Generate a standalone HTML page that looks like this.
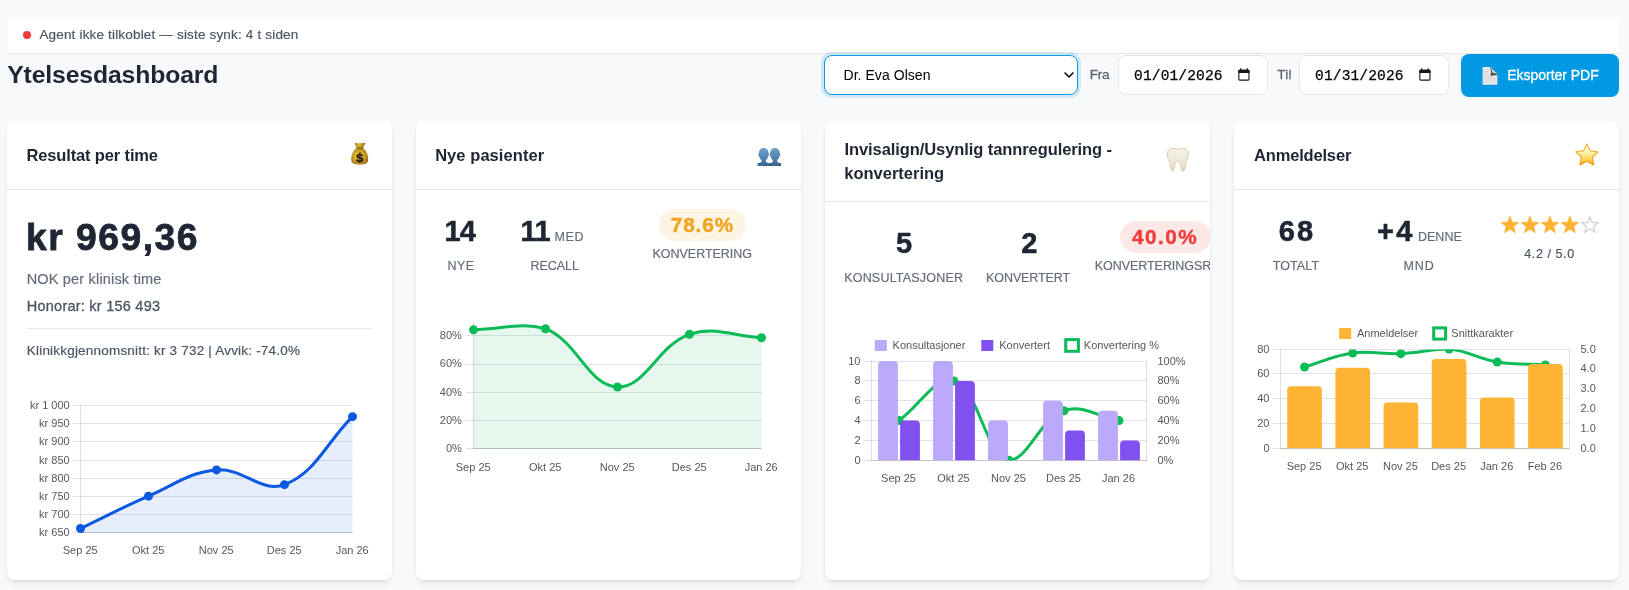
<!DOCTYPE html>
<html lang="no">
<head>
<meta charset="utf-8">
<title>Ytelsesdashboard</title>
<style>
*{box-sizing:border-box;margin:0;padding:0}
html,body{width:1629px;height:590px;overflow:hidden}
body{position:relative;background:#f8f9fb;font-family:"Liberation Sans",sans-serif;color:#1e2533}
h1,h2,label{font-weight:400;font-size:inherit}
.t{position:absolute;white-space:nowrap;line-height:1;font-family:"Liberation Sans",sans-serif;margin:0}
.gfx{position:absolute;left:0;top:0;pointer-events:none}
.status{position:absolute;left:7px;top:17px;width:1612px;height:37px;background:#fff;border-bottom:1px solid #e5e7eb;will-change:transform}
.dot{position:absolute;left:16px;top:14px;width:8px;height:8px;border-radius:50%;background:#ef3b3f}
.top{position:absolute;left:0;top:0;width:1629px;height:110px;will-change:transform}
.select{position:absolute;left:824px;top:55px;width:254px;height:40px;background:#fff;border:1.5px solid #0a99e6;border-radius:8px;box-shadow:0 0 0 3px rgba(14,150,230,0.17)}
.date{position:absolute;top:55px;width:150px;height:40px;background:#fff;border:1px solid #e3e6ea;border-radius:8px}
.btn{position:absolute;left:1461px;top:54px;width:158px;height:43px;background:#0099e3;border-radius:8px}
.card{position:absolute;top:121px;width:385px;height:459px;background:#fff;border-radius:8px;overflow:hidden;will-change:transform;
 box-shadow:0 4px 6px -1px rgba(0,0,0,0.09),0 2px 4px -1px rgba(0,0,0,0.05),0 0 2px rgba(0,0,0,0.03)}
.card .hd{position:absolute;left:0;top:0;width:100%;border-bottom:1px solid #e5e7eb}
.rule{position:absolute;width:345px;height:1px;background:#e5e7eb}
.pill{position:absolute;height:32px;border-radius:16px}
</style>
</head>
<body>
<div class="status" role="status">
<span class="dot"></span>
<span class="t" style="left:32.39px;top:11px;font-size:13.5px;color:#4b5563;letter-spacing:0.175px;-webkit-text-stroke:0.18px #4b5563;">Agent ikke tilkoblet — siste synk: 4 t siden</span>
</div>
<header class="top">
<h1 class="t" style="left:7.21px;top:63px;font-size:24.75px;color:#1e2533;letter-spacing:-0.128px;font-weight:700;">Ytelsesdashboard</h1>
<div class="select" role="combobox" aria-label="Behandler">
</div>
<span class="t" style="left:843.48px;top:68px;font-size:14px;color:#000;letter-spacing:0.054px;">Dr. Eva Olsen</span>
<label class="t" style="left:1089.87px;top:68px;font-size:13.5px;color:#5f6775;letter-spacing:-0.335px;-webkit-text-stroke:0.3px #5f6775;">Fra</label>
<div class="date" style="left:1118px"></div>
<span class="t" style="left:1134.06px;top:69px;font-size:14.5px;color:#000;letter-spacing:0.163px;font-family:'Liberation Mono',monospace;-webkit-text-stroke:0.25px #000;">01/01/2026</span>
<label class="t" style="left:1277.18px;top:68px;font-size:13.5px;color:#5f6775;letter-spacing:0.322px;-webkit-text-stroke:0.3px #5f6775;">Til</label>
<div class="date" style="left:1299px"></div>
<span class="t" style="left:1315.06px;top:69px;font-size:14.5px;color:#000;letter-spacing:0.163px;font-family:'Liberation Mono',monospace;-webkit-text-stroke:0.25px #000;">01/31/2026</span>
<div class="btn" role="button"></div>
<span class="t" style="left:1507.23px;top:68px;font-size:14px;color:#fff;letter-spacing:-0.024px;-webkit-text-stroke:0.3px #fff;">Eksporter PDF</span>
<svg class="gfx" width="1629" height="110" viewBox="0 0 1629 110" aria-hidden="true">
<path d="M1065.1,73.0 l3.9,4 l3.9,-4" fill="none" stroke="#111" stroke-width="1.7" stroke-linecap="round" stroke-linejoin="round"/>
<g transform="translate(1238.3,68.2)"><rect x="0.55" y="2.2" width="10.1" height="9.7" rx="0.9" fill="none" stroke="#161616" stroke-width="1.1"/><path d="M0,4.7 V2.6 Q0,1.6 1,1.6 H10.2 Q11.2,1.6 11.2,2.6 V4.7Z" fill="#161616"/><rect x="1.7" y="0.1" width="1.3" height="2" fill="#161616"/><rect x="8.2" y="0.1" width="1.3" height="2" fill="#161616"/></g>
<g transform="translate(1419.3,68.2)"><rect x="0.55" y="2.2" width="10.1" height="9.7" rx="0.9" fill="none" stroke="#161616" stroke-width="1.1"/><path d="M0,4.7 V2.6 Q0,1.6 1,1.6 H10.2 Q11.2,1.6 11.2,2.6 V4.7Z" fill="#161616"/><rect x="1.7" y="0.1" width="1.3" height="2" fill="#161616"/><rect x="8.2" y="0.1" width="1.3" height="2" fill="#161616"/></g>
<g transform="translate(1482.6,67.1)">
<path d="M0,0 H7.6 L14.8,7.6 V17.7 H0Z" fill="#e7e7e7"/>
<path d="M7.3,0 C8.7,2.8 8.6,6.2 7.9,8.9 C10.2,8.2 12.8,7.9 14.8,8.3 L14.8,7.5Z" fill="#4f4f4f"/>
<path d="M7.6,0 L14.8,7.5 C13,6.1 11.2,5.3 9.7,5.3 C9.8,3.4 9,1.5 7.6,0Z" fill="#f4f4f4"/>
<path d="M1.6,4.2H6.2M1.6,6.4H6.6M1.6,8.6H8M1.6,10.8H12.6M1.6,13H12.6M1.6,15.2H6" stroke="#cfcfcf" stroke-width="0.7"/>
</g>
</svg>
</header>
<main>
<section class="card" style="left:7px">
<div class="hd" style="height:69px"></div>
<h2 class="t" style="left:19.53px;top:26px;font-size:16.5px;color:#1e2533;letter-spacing:-0.148px;font-weight:700;">Resultat per time</h2>
<span class="t big" style="left:18.99px;top:98px;font-size:37.25px;color:#1e2533;letter-spacing:1.510px;font-weight:700;-webkit-text-stroke:0.8px #1e2533;">kr 969,36</span>
<span class="t" style="left:19.73px;top:151px;font-size:14.5px;color:#646c7a;letter-spacing:0.176px;-webkit-text-stroke:0.18px #646c7a;">NOK per klinisk time</span>
<span class="t" style="left:19.79px;top:178px;font-size:14.5px;color:#4b5563;letter-spacing:0.237px;-webkit-text-stroke:0.3px #4b5563;">Honorar: kr 156 493</span>
<div class="rule" style="left:20px;top:207px"></div>
<span class="t" style="left:19.81px;top:223px;font-size:13.5px;color:#4b5563;letter-spacing:0.199px;-webkit-text-stroke:0.18px #4b5563;">Klinikkgjennomsnitt: kr 3 732 | Avvik: -74.0%</span>
<svg class="gfx" width="385" height="459" viewBox="7 121 385 459" aria-hidden="true">
<g transform="translate(351.2,142.8)">
<defs>
<radialGradient id="mbg" cx="0.45" cy="0.5" r="0.62"><stop offset="0" stop-color="#efcf55"/><stop offset="0.5" stop-color="#d2a52b"/><stop offset="0.85" stop-color="#a57a17"/><stop offset="1" stop-color="#7d5a10"/></radialGradient>
<linearGradient id="mbn" x1="0" x2="1"><stop offset="0" stop-color="#8f6a13"/><stop offset="0.35" stop-color="#dcb43c"/><stop offset="0.6" stop-color="#c89f2a"/><stop offset="1" stop-color="#8f6a13"/></linearGradient>
</defs>
<path d="M3.3,0.5 C4.6,-0.2 6.4,0.9 8.6,0.4 C10.8,0.9 12.8,-0.2 14.2,0.6 C13.4,2.2 12.2,3.4 11.9,5.4 L5.4,5.4 C5.1,3.4 4.1,2.2 3.3,0.5Z" fill="url(#mbn)"/>
<path d="M5.6,4.9 L11.7,4.9 C12.4,6 13.6,6.6 14.6,8.2 C16,10.4 17,13.4 17,16.4 C17,20.2 14.4,21.8 8.5,21.8 C2.6,21.8 0,20.2 0,16.4 C0,13.4 1,10.4 2.4,8.2 C3.4,6.6 4.9,6 5.6,4.9Z" fill="url(#mbg)"/>
<path d="M5.3,4.6 H11.9 V5.7 H5.3Z" fill="#6f4f0c" opacity="0.85"/>
<text x="8.75" y="18.9" text-anchor="middle" font-family="Liberation Sans, sans-serif" font-weight="700" font-size="11.5" fill="#271c0c" stroke="#271c0c" stroke-width="0.35">S</text>
<path d="M8.75,9.3 V20.2" stroke="#271c0c" stroke-width="1.15" fill="none"/>
</g>
<path d="M72.5,532.5 H352.5" stroke="#dfe2e9" stroke-width="1" fill="none"/>
<path d="M72.5,514.5 H352.5" stroke="#dfe2e9" stroke-width="1" fill="none"/>
<path d="M72.5,496.5 H352.5" stroke="#dfe2e9" stroke-width="1" fill="none"/>
<path d="M72.5,478.5 H352.5" stroke="#dfe2e9" stroke-width="1" fill="none"/>
<path d="M72.5,460.5 H352.5" stroke="#dfe2e9" stroke-width="1" fill="none"/>
<path d="M72.5,441.5 H352.5" stroke="#dfe2e9" stroke-width="1" fill="none"/>
<path d="M72.5,423.5 H352.5" stroke="#dfe2e9" stroke-width="1" fill="none"/>
<path d="M72.5,405.5 H352.5" stroke="#dfe2e9" stroke-width="1" fill="none"/>
<path d="M80.5,405 V533" stroke="rgba(0,0,0,0.13)" stroke-width="1" fill="none"/>
<path d="M80.5,532.5 H352.5" stroke="rgba(0,0,0,0.13)" stroke-width="1" fill="none"/>
<text x="69.7" y="536.3" text-anchor="end" font-family="Liberation Sans, sans-serif" font-size="11" fill="#575757" >kr 650</text>
<text x="69.7" y="518.1" text-anchor="end" font-family="Liberation Sans, sans-serif" font-size="11" fill="#575757" >kr 700</text>
<text x="69.7" y="499.9" text-anchor="end" font-family="Liberation Sans, sans-serif" font-size="11" fill="#575757" >kr 750</text>
<text x="69.7" y="481.7" text-anchor="end" font-family="Liberation Sans, sans-serif" font-size="11" fill="#575757" >kr 800</text>
<text x="69.7" y="463.5" text-anchor="end" font-family="Liberation Sans, sans-serif" font-size="11" fill="#575757" >kr 850</text>
<text x="69.7" y="445.3" text-anchor="end" font-family="Liberation Sans, sans-serif" font-size="11" fill="#575757" >kr 900</text>
<text x="69.7" y="427.1" text-anchor="end" font-family="Liberation Sans, sans-serif" font-size="11" fill="#575757" >kr 950</text>
<text x="69.7" y="408.9" text-anchor="end" font-family="Liberation Sans, sans-serif" font-size="11" fill="#575757" >kr 1 000</text>
<text x="80.2" y="554" text-anchor="middle" font-family="Liberation Sans, sans-serif" font-size="11" fill="#575757" >Sep 25</text>
<text x="148.2" y="554" text-anchor="middle" font-family="Liberation Sans, sans-serif" font-size="11" fill="#575757" >Okt 25</text>
<text x="216.2" y="554" text-anchor="middle" font-family="Liberation Sans, sans-serif" font-size="11" fill="#575757" >Nov 25</text>
<text x="284.2" y="554" text-anchor="middle" font-family="Liberation Sans, sans-serif" font-size="11" fill="#575757" >Des 25</text>
<text x="352.2" y="554" text-anchor="middle" font-family="Liberation Sans, sans-serif" font-size="11" fill="#575757" >Jan 26</text>
<path d="M80.5,528.53 C107.7,515.57 120.85,508.05 148.5,496.14 C175.25,484.61 188.67,472.28 216.5,469.93 C243.07,467.68 261.66,493.58 284.5,484.63 C316.06,472.27 325.3,443.85 352.5,416.65 L352.5,532.9 L80.5,532.9 Z" fill="rgba(11,89,224,0.1)"/>
<path d="M80.5,528.53 C107.7,515.57 120.85,508.05 148.5,496.14 C175.25,484.61 188.67,472.28 216.5,469.93 C243.07,467.68 261.66,493.58 284.5,484.63 C316.06,472.27 325.3,443.85 352.5,416.65" fill="none" stroke="#0b59e0" stroke-width="3" stroke-linecap="butt" stroke-linejoin="miter"/>
<circle cx="80.5" cy="528.53" r="4.5" fill="#0b59e0"/>
<circle cx="148.5" cy="496.14" r="4.5" fill="#0b59e0"/>
<circle cx="216.5" cy="469.93" r="4.5" fill="#0b59e0"/>
<circle cx="284.5" cy="484.63" r="4.5" fill="#0b59e0"/>
<circle cx="352.5" cy="416.65" r="4.5" fill="#0b59e0"/>
</svg>
</section>
<section class="card" style="left:416px">
<div class="hd" style="height:69px"></div>
<h2 class="t" style="left:19.13px;top:26px;font-size:16.5px;color:#1e2533;letter-spacing:0.065px;font-weight:700;">Nye pasienter</h2>
<span class="t" style="left:28.47px;top:96px;font-size:29px;color:#1e2533;letter-spacing:-0.725px;font-weight:700;-webkit-text-stroke:0.55px #1e2533;">14</span>
<span class="t" style="left:31.49px;top:139px;font-size:12.5px;color:#646c7a;letter-spacing:0.466px;-webkit-text-stroke:0.18px #646c7a;">NYE</span>
<span class="t" style="left:104.58px;top:96px;font-size:29px;color:#1e2533;letter-spacing:-0.725px;font-weight:700;-webkit-text-stroke:0.55px #1e2533;">11</span>
<span class="t" style="left:138.59px;top:110px;font-size:12.5px;color:#646c7a;letter-spacing:0.566px;-webkit-text-stroke:0.18px #646c7a;">MED</span>
<span class="t" style="left:114.49px;top:139px;font-size:12.5px;color:#646c7a;letter-spacing:-0.046px;-webkit-text-stroke:0.18px #646c7a;">RECALL</span>
<div class="pill" style="left:243px;top:88px;width:87px;background:#fef4e3"></div>
<span class="t" style="left:254.77px;top:94px;font-size:20.75px;color:#f2a31f;letter-spacing:0.881px;font-weight:700;-webkit-text-stroke:0.4px #f2a31f;">78.6%</span>
<span class="t" style="left:236.49px;top:127px;font-size:12.5px;color:#646c7a;letter-spacing:-0.023px;-webkit-text-stroke:0.18px #646c7a;">KONVERTERING</span>
<svg class="gfx" width="385" height="459" viewBox="416 121 385 459" aria-hidden="true">
<defs><linearGradient id="bsg" x1="0" y1="0" x2="0" y2="1" gradientUnits="objectBoundingBox"><stop offset="0" stop-color="#6fa0c8"/><stop offset="0.6" stop-color="#4f82ae"/><stop offset="1" stop-color="#34608a"/></linearGradient></defs>
<path d="M763.70,147.9 c2.9,0 4.9,2.2 4.9,5.4 c0,0.5 0.5,0.6 0.5,1.3 c0,0.8 -0.6,1.1 -0.8,1.6 c-0.5,1.9 -1.5,3.2 -2.4,3.9 l0,1.6 c0.4,0.9 2.2,1.2 3.9,1.5 l0,2.8 l-12.2,0 l0,-2.8 c1.7,-0.3 3.5,-0.6 3.9,-1.5 l0,-1.6 c-0.9,-0.7 -1.9,-2 -2.4,-3.9 c-0.2,-0.5 -0.8,-0.8 -0.8,-1.6 c0,-0.7 0.5,-0.8 0.5,-1.3 c0,-3.2 2,-5.4 4.9,-5.4z" fill="url(#bsg)"/><path d="M775.00,147.9 c2.9,0 4.9,2.2 4.9,5.4 c0,0.5 0.5,0.6 0.5,1.3 c0,0.8 -0.6,1.1 -0.8,1.6 c-0.5,1.9 -1.5,3.2 -2.4,3.9 l0,1.6 c0.4,0.9 2.2,1.2 3.9,1.5 l0,2.8 l-12.2,0 l0,-2.8 c1.7,-0.3 3.5,-0.6 3.9,-1.5 l0,-1.6 c-0.9,-0.7 -1.9,-2 -2.4,-3.9 c-0.2,-0.5 -0.8,-0.8 -0.8,-1.6 c0,-0.7 0.5,-0.8 0.5,-1.3 c0,-3.2 2,-5.4 4.9,-5.4z" fill="url(#bsg)"/>
<path d="M465.5,448.5 H761.5" stroke="#dfe2e9" stroke-width="1" fill="none"/>
<path d="M465.5,420.5 H761.5" stroke="#dfe2e9" stroke-width="1" fill="none"/>
<path d="M465.5,392.5 H761.5" stroke="#dfe2e9" stroke-width="1" fill="none"/>
<path d="M465.5,364.5 H761.5" stroke="#dfe2e9" stroke-width="1" fill="none"/>
<path d="M465.5,335.5 H761.5" stroke="#dfe2e9" stroke-width="1" fill="none"/>
<path d="M473.5,321 V449" stroke="rgba(0,0,0,0.13)" stroke-width="1" fill="none"/>
<path d="M473.5,448.5 H761.5" stroke="rgba(0,0,0,0.13)" stroke-width="1" fill="none"/>
<text x="461.8" y="452.3" text-anchor="end" font-family="Liberation Sans, sans-serif" font-size="11" fill="#575757" >0%</text>
<text x="461.8" y="424.02" text-anchor="end" font-family="Liberation Sans, sans-serif" font-size="11" fill="#575757" >20%</text>
<text x="461.8" y="395.74" text-anchor="end" font-family="Liberation Sans, sans-serif" font-size="11" fill="#575757" >40%</text>
<text x="461.8" y="367.46" text-anchor="end" font-family="Liberation Sans, sans-serif" font-size="11" fill="#575757" >60%</text>
<text x="461.8" y="339.18" text-anchor="end" font-family="Liberation Sans, sans-serif" font-size="11" fill="#575757" >80%</text>
<text x="473.2" y="471" text-anchor="middle" font-family="Liberation Sans, sans-serif" font-size="11" fill="#575757" >Sep 25</text>
<text x="545.2" y="471" text-anchor="middle" font-family="Liberation Sans, sans-serif" font-size="11" fill="#575757" >Okt 25</text>
<text x="617.2" y="471" text-anchor="middle" font-family="Liberation Sans, sans-serif" font-size="11" fill="#575757" >Nov 25</text>
<text x="689.2" y="471" text-anchor="middle" font-family="Liberation Sans, sans-serif" font-size="11" fill="#575757" >Des 25</text>
<text x="761.2" y="471" text-anchor="middle" font-family="Liberation Sans, sans-serif" font-size="11" fill="#575757" >Jan 26</text>
<path d="M473.5,329.84 C502.3,329.39 520.31,321.64 545.5,328.71 C577.91,341.57 588.15,385.81 617.5,386.97 C645.75,388.08 657.65,345.25 689.5,334.37 C715.25,325.57 732.7,336.4 761.5,337.76 L761.5,448.9 L473.5,448.9 Z" fill="rgba(11,187,88,0.1)"/>
<path d="M473.5,329.84 C502.3,329.39 520.31,321.64 545.5,328.71 C577.91,341.57 588.15,385.81 617.5,386.97 C645.75,388.08 657.65,345.25 689.5,334.37 C715.25,325.57 732.7,336.4 761.5,337.76" fill="none" stroke="#0bbb58" stroke-width="3"/>
<circle cx="473.5" cy="329.84" r="4.5" fill="#0bbb58"/>
<circle cx="545.5" cy="328.71" r="4.5" fill="#0bbb58"/>
<circle cx="617.5" cy="386.97" r="4.5" fill="#0bbb58"/>
<circle cx="689.5" cy="334.37" r="4.5" fill="#0bbb58"/>
<circle cx="761.5" cy="337.76" r="4.5" fill="#0bbb58"/>
</svg>
</section>
<section class="card" style="left:825px">
<div class="hd" style="height:81px"></div>
<h2 class="t" style="left:19.53px;top:20px;font-size:16.5px;color:#1e2533;letter-spacing:-0.085px;font-weight:700;">Invisalign/Usynlig tannregulering -</h2>
<h2 class="t" style="left:19.25px;top:44px;font-size:16.5px;color:#1e2533;font-weight:700;">konvertering</h2>
<span class="t" style="left:70.93px;top:108px;font-size:29px;color:#1e2533;font-weight:700;-webkit-text-stroke:0.55px #1e2533;">5</span>
<span class="t" style="left:19.19px;top:151px;font-size:12.5px;color:#646c7a;letter-spacing:0.200px;-webkit-text-stroke:0.18px #646c7a;">KONSULTASJONER</span>
<span class="t" style="left:196.23px;top:108px;font-size:29px;color:#1e2533;font-weight:700;-webkit-text-stroke:0.55px #1e2533;">2</span>
<span class="t" style="left:161.09px;top:151px;font-size:12.5px;color:#646c7a;letter-spacing:-0.096px;-webkit-text-stroke:0.18px #646c7a;">KONVERTERT</span>
<div class="pill" style="left:295px;top:100px;width:91px;background:#fde8e8"></div>
<span class="t" style="left:306.89px;top:106px;font-size:20.75px;color:#ef3d3d;letter-spacing:1.526px;font-weight:700;-webkit-text-stroke:0.4px #ef3d3d;">40.0%</span>
<span class="t" style="left:269.69px;top:139px;font-size:12.5px;color:#646c7a;letter-spacing:-0.043px;-webkit-text-stroke:0.18px #646c7a;">KONVERTERINGSRATE</span>
<svg class="gfx" width="385" height="459" viewBox="825 121 385 459" aria-hidden="true">
<g transform="translate(1166.8,147.8)">
<defs><linearGradient id="tg" x1="0" y1="0" x2="0" y2="1"><stop offset="0" stop-color="#f6f2e8"/><stop offset="0.5" stop-color="#efe9db"/><stop offset="1" stop-color="#e2d8c2"/></linearGradient></defs>
<path d="M5.2,0.5 C7.4,0.1 9,1.3 11,1.3 C13,1.3 14.6,0.1 16.8,0.5 C20,1.1 21.8,3.8 21.6,7.2 C21.4,10 19.8,11.8 19.2,14.4 C18.6,17.4 18.6,20.4 17.2,22.6 C16.4,23.8 15.2,23.6 14.8,22.2 C14.2,19.8 14.2,17.2 13.2,15 C12.6,13.8 11.8,13.2 11,13.2 C10.2,13.2 9.4,13.8 8.8,15 C7.8,17.2 7.8,19.8 7.2,22.2 C6.8,23.6 5.6,23.8 4.8,22.6 C3.4,20.4 3.4,17.4 2.8,14.4 C2.2,11.8 0.6,10 0.4,7.2 C0.2,3.8 2,1.1 5.2,0.5Z" fill="url(#tg)" stroke="#d8c3a0" stroke-width="0.8"/>
</g>
<defs><clipPath id="clip3"><rect x="865.5" y="361.5" width="287" height="98.8"/></clipPath></defs>
<path d="M863.5,460.5 H1146.5" stroke="#dfe2e9" stroke-width="1" fill="none"/>
<path d="M863.5,440.5 H1146.5" stroke="#dfe2e9" stroke-width="1" fill="none"/>
<path d="M863.5,420.5 H1146.5" stroke="#dfe2e9" stroke-width="1" fill="none"/>
<path d="M863.5,400.5 H1146.5" stroke="#dfe2e9" stroke-width="1" fill="none"/>
<path d="M863.5,380.5 H1146.5" stroke="#dfe2e9" stroke-width="1" fill="none"/>
<path d="M863.5,361.5 H1146.5" stroke="#dfe2e9" stroke-width="1" fill="none"/>
<path d="M871.5,361 V461" stroke="rgba(0,0,0,0.13)" stroke-width="1" fill="none"/>
<path d="M1146.5,361 V461" stroke="rgba(0,0,0,0.13)" stroke-width="1" fill="none"/>
<path d="M871.5,460.5 H1146.5" stroke="rgba(0,0,0,0.13)" stroke-width="1" fill="none"/>
<text x="860.5" y="463.7" text-anchor="end" font-family="Liberation Sans, sans-serif" font-size="11" fill="#575757" >0</text>
<text x="860.5" y="443.86" text-anchor="end" font-family="Liberation Sans, sans-serif" font-size="11" fill="#575757" >2</text>
<text x="860.5" y="424.02" text-anchor="end" font-family="Liberation Sans, sans-serif" font-size="11" fill="#575757" >4</text>
<text x="860.5" y="404.18" text-anchor="end" font-family="Liberation Sans, sans-serif" font-size="11" fill="#575757" >6</text>
<text x="860.5" y="384.34" text-anchor="end" font-family="Liberation Sans, sans-serif" font-size="11" fill="#575757" >8</text>
<text x="860.5" y="364.5" text-anchor="end" font-family="Liberation Sans, sans-serif" font-size="11" fill="#575757" >10</text>
<text x="1157.5" y="463.7" text-anchor="start" font-family="Liberation Sans, sans-serif" font-size="11" fill="#575757" >0%</text>
<text x="1157.5" y="443.86" text-anchor="start" font-family="Liberation Sans, sans-serif" font-size="11" fill="#575757" >20%</text>
<text x="1157.5" y="424.02" text-anchor="start" font-family="Liberation Sans, sans-serif" font-size="11" fill="#575757" >40%</text>
<text x="1157.5" y="404.18" text-anchor="start" font-family="Liberation Sans, sans-serif" font-size="11" fill="#575757" >60%</text>
<text x="1157.5" y="384.34" text-anchor="start" font-family="Liberation Sans, sans-serif" font-size="11" fill="#575757" >80%</text>
<text x="1157.5" y="364.5" text-anchor="start" font-family="Liberation Sans, sans-serif" font-size="11" fill="#575757" >100%</text>
<text x="898.5" y="482.3" text-anchor="middle" font-family="Liberation Sans, sans-serif" font-size="11" fill="#575757" >Sep 25</text>
<text x="953.5" y="482.3" text-anchor="middle" font-family="Liberation Sans, sans-serif" font-size="11" fill="#575757" >Okt 25</text>
<text x="1008.5" y="482.3" text-anchor="middle" font-family="Liberation Sans, sans-serif" font-size="11" fill="#575757" >Nov 25</text>
<text x="1063.5" y="482.3" text-anchor="middle" font-family="Liberation Sans, sans-serif" font-size="11" fill="#575757" >Des 25</text>
<text x="1118.5" y="482.3" text-anchor="middle" font-family="Liberation Sans, sans-serif" font-size="11" fill="#575757" >Jan 26</text>
<g clip-path="url(#clip3)"><path d="M899,420.62 C921,404.75 935.85,374.39 954,380.94 C979.85,390.26 984.1,453.56 1009,460.3 C1028.1,460.3 1038.92,419.75 1064,410.7 C1082.92,403.87 1097,416.65 1119,420.62" fill="none" stroke="#0bbb58" stroke-width="3"/>
<circle cx="899" cy="420.62" r="4.5" fill="#0bbb58"/>
<circle cx="954" cy="380.94" r="4.5" fill="#0bbb58"/>
<circle cx="1009" cy="460.3" r="4.5" fill="#0bbb58"/>
<circle cx="1064" cy="410.7" r="4.5" fill="#0bbb58"/>
<circle cx="1119" cy="420.62" r="4.5" fill="#0bbb58"/></g>
<path d="M878.1,460.3 V365.1 Q878.1,361.1 882.1,361.1 H893.9 Q897.9,361.1 897.9,365.1 V460.3 Z" fill="#bba9fa"/>
<path d="M900.1,460.3 V424.62 Q900.1,420.62 904.1,420.62 H915.9 Q919.9,420.62 919.9,424.62 V460.3 Z" fill="#8151f0"/>
<path d="M933.1,460.3 V365.1 Q933.1,361.1 937.1,361.1 H948.9 Q952.9,361.1 952.9,365.1 V460.3 Z" fill="#bba9fa"/>
<path d="M955.1,460.3 V384.94 Q955.1,380.94 959.1,380.94 H970.9 Q974.9,380.94 974.9,384.94 V460.3 Z" fill="#8151f0"/>
<path d="M988.1,460.3 V424.62 Q988.1,420.62 992.1,420.62 H1003.9 Q1007.9,420.62 1007.9,424.62 V460.3 Z" fill="#bba9fa"/>
<path d="M1043.1,460.3 V404.78 Q1043.1,400.78 1047.1,400.78 H1058.9 Q1062.9,400.78 1062.9,404.78 V460.3 Z" fill="#bba9fa"/>
<path d="M1065.1,460.3 V434.54 Q1065.1,430.54 1069.1,430.54 H1080.9 Q1084.9,430.54 1084.9,434.54 V460.3 Z" fill="#8151f0"/>
<path d="M1098.1,460.3 V414.7 Q1098.1,410.7 1102.1,410.7 H1113.9 Q1117.9,410.7 1117.9,414.7 V460.3 Z" fill="#bba9fa"/>
<path d="M1120.1,460.3 V444.46 Q1120.1,440.46 1124.1,440.46 H1135.9 Q1139.9,440.46 1139.9,444.46 V460.3 Z" fill="#8151f0"/>
<rect x="874.8" y="340.0" width="12" height="11" fill="#bba9fa"/>
<text x="892.6" y="349.3" text-anchor="start" font-family="Liberation Sans, sans-serif" font-size="11" fill="#575757" >Konsultasjoner</text>
<rect x="981.3" y="340.0" width="12" height="11" fill="#8151f0"/>
<text x="999.2" y="349.3" text-anchor="start" font-family="Liberation Sans, sans-serif" font-size="11" fill="#575757" >Konvertert</text>
<rect x="1065.7" y="339.6" width="12.7" height="11.7" fill="none" stroke="#0bbb58" stroke-width="3"/>
<text x="1083.8" y="349.3" text-anchor="start" font-family="Liberation Sans, sans-serif" font-size="11" fill="#575757" >Konvertering %</text>
</svg>
</section>
<section class="card" style="left:1234px">
<div class="hd" style="height:69px"></div>
<h2 class="t" style="left:19.99px;top:26px;font-size:16.5px;color:#1e2533;letter-spacing:-0.172px;font-weight:700;">Anmeldelser</h2>
<span class="t" style="left:44.69px;top:96px;font-size:29px;color:#1e2533;letter-spacing:2.175px;font-weight:700;-webkit-text-stroke:0.55px #1e2533;">68</span>
<span class="t" style="left:38.64px;top:139px;font-size:12.5px;color:#646c7a;letter-spacing:0.122px;-webkit-text-stroke:0.18px #646c7a;">TOTALT</span>
<span class="t" style="left:143.08px;top:96px;font-size:29px;color:#1e2533;letter-spacing:2.175px;font-weight:700;-webkit-text-stroke:0.55px #1e2533;">+4</span>
<span class="t" style="left:183.89px;top:110px;font-size:12.5px;color:#646c7a;letter-spacing:0.043px;-webkit-text-stroke:0.18px #646c7a;">DENNE</span>
<span class="t" style="left:169.38px;top:139px;font-size:12.5px;color:#646c7a;letter-spacing:0.938px;-webkit-text-stroke:0.18px #646c7a;">MND</span>
<span class="t" style="left:290.34px;top:127px;font-size:12.5px;color:#4b5563;letter-spacing:0.577px;-webkit-text-stroke:0.18px #4b5563;">4.2 / 5.0</span>
<svg class="gfx" width="385" height="459" viewBox="1234 121 385 459" aria-hidden="true">
<defs><linearGradient id="stg" x1="0" y1="0" x2="0" y2="1"><stop offset="0" stop-color="#fffef0"/><stop offset="0.38" stop-color="#fff6b4"/><stop offset="0.72" stop-color="#ffd659"/><stop offset="1" stop-color="#fbab22"/></linearGradient>
<linearGradient id="sts" x1="0" y1="0" x2="0" y2="1"><stop offset="0" stop-color="#f9b84a"/><stop offset="1" stop-color="#f39a16"/></linearGradient></defs>
<path d="M1586.85,143.90 L1590.23,150.85 L1597.88,151.92 L1592.32,157.28 L1593.67,164.88 L1586.85,161.25 L1580.03,164.88 L1581.38,157.28 L1575.82,151.92 L1583.47,150.85Z" fill="url(#stg)" stroke="url(#sts)" stroke-width="1.15" stroke-linejoin="round"/>
<path d="M1509.90,216.20 L1512.19,222.14 L1518.55,222.49 L1513.61,226.51 L1515.25,232.66 L1509.90,229.20 L1504.55,232.66 L1506.19,226.51 L1501.25,222.49 L1507.61,222.14Z" fill="#fdb234" stroke="#fdb234" stroke-width="0.8" stroke-linejoin="round"/>
<path d="M1529.90,216.20 L1532.19,222.14 L1538.55,222.49 L1533.61,226.51 L1535.25,232.66 L1529.90,229.20 L1524.55,232.66 L1526.19,226.51 L1521.25,222.49 L1527.61,222.14Z" fill="#fdb234" stroke="#fdb234" stroke-width="0.8" stroke-linejoin="round"/>
<path d="M1549.90,216.20 L1552.19,222.14 L1558.55,222.49 L1553.61,226.51 L1555.25,232.66 L1549.90,229.20 L1544.55,232.66 L1546.19,226.51 L1541.25,222.49 L1547.61,222.14Z" fill="#fdb234" stroke="#fdb234" stroke-width="0.8" stroke-linejoin="round"/>
<path d="M1569.90,216.20 L1572.19,222.14 L1578.55,222.49 L1573.61,226.51 L1575.25,232.66 L1569.90,229.20 L1564.55,232.66 L1566.19,226.51 L1561.25,222.49 L1567.61,222.14Z" fill="#fdb234" stroke="#fdb234" stroke-width="0.8" stroke-linejoin="round"/>
<path d="M1589.90,216.90 L1592.07,222.31 L1597.89,222.70 L1593.42,226.44 L1594.84,232.10 L1589.90,229.00 L1584.96,232.10 L1586.38,226.44 L1581.91,222.70 L1587.73,222.31Z" fill="none" stroke="#d1d5db" stroke-width="1.4" stroke-linejoin="miter"/>
<defs><clipPath id="clip4"><rect x="1274.5" y="349.5" width="301" height="98.8"/></clipPath></defs>
<path d="M1272.5,448.5 H1569.5" stroke="#dfe2e9" stroke-width="1" fill="none"/>
<path d="M1272.5,423.5 H1569.5" stroke="#dfe2e9" stroke-width="1" fill="none"/>
<path d="M1272.5,398.5 H1569.5" stroke="#dfe2e9" stroke-width="1" fill="none"/>
<path d="M1272.5,373.5 H1569.5" stroke="#dfe2e9" stroke-width="1" fill="none"/>
<path d="M1272.5,349.5 H1569.5" stroke="#dfe2e9" stroke-width="1" fill="none"/>
<path d="M1280.5,349 V449" stroke="rgba(0,0,0,0.13)" stroke-width="1" fill="none"/>
<path d="M1569.5,349 V449" stroke="rgba(0,0,0,0.13)" stroke-width="1" fill="none"/>
<path d="M1280.5,448.5 H1569.5" stroke="rgba(0,0,0,0.13)" stroke-width="1" fill="none"/>
<text x="1269.5" y="451.7" text-anchor="end" font-family="Liberation Sans, sans-serif" font-size="11" fill="#575757" >0</text>
<text x="1269.5" y="426.9" text-anchor="end" font-family="Liberation Sans, sans-serif" font-size="11" fill="#575757" >20</text>
<text x="1269.5" y="402.1" text-anchor="end" font-family="Liberation Sans, sans-serif" font-size="11" fill="#575757" >40</text>
<text x="1269.5" y="377.3" text-anchor="end" font-family="Liberation Sans, sans-serif" font-size="11" fill="#575757" >60</text>
<text x="1269.5" y="352.5" text-anchor="end" font-family="Liberation Sans, sans-serif" font-size="11" fill="#575757" >80</text>
<text x="1580.5" y="451.7" text-anchor="start" font-family="Liberation Sans, sans-serif" font-size="11" fill="#575757" >0.0</text>
<text x="1580.5" y="431.86" text-anchor="start" font-family="Liberation Sans, sans-serif" font-size="11" fill="#575757" >1.0</text>
<text x="1580.5" y="412.02" text-anchor="start" font-family="Liberation Sans, sans-serif" font-size="11" fill="#575757" >2.0</text>
<text x="1580.5" y="392.18" text-anchor="start" font-family="Liberation Sans, sans-serif" font-size="11" fill="#575757" >3.0</text>
<text x="1580.5" y="372.34" text-anchor="start" font-family="Liberation Sans, sans-serif" font-size="11" fill="#575757" >4.0</text>
<text x="1580.5" y="352.5" text-anchor="start" font-family="Liberation Sans, sans-serif" font-size="11" fill="#575757" >5.0</text>
<text x="1304.08" y="470" text-anchor="middle" font-family="Liberation Sans, sans-serif" font-size="11" fill="#575757" >Sep 25</text>
<text x="1352.25" y="470" text-anchor="middle" font-family="Liberation Sans, sans-serif" font-size="11" fill="#575757" >Okt 25</text>
<text x="1400.42" y="470" text-anchor="middle" font-family="Liberation Sans, sans-serif" font-size="11" fill="#575757" >Nov 25</text>
<text x="1448.58" y="470" text-anchor="middle" font-family="Liberation Sans, sans-serif" font-size="11" fill="#575757" >Des 25</text>
<text x="1496.75" y="470" text-anchor="middle" font-family="Liberation Sans, sans-serif" font-size="11" fill="#575757" >Jan 26</text>
<text x="1544.92" y="470" text-anchor="middle" font-family="Liberation Sans, sans-serif" font-size="11" fill="#575757" >Feb 26</text>
<g clip-path="url(#clip4)"><path d="M1304.58,366.96 C1323.85,361.4 1333.1,355.78 1352.75,353.07 C1371.63,350.46 1381.69,354.46 1400.92,353.66 C1420.23,352.87 1430.11,349.1 1449.08,349.1 C1468.64,350.79 1477.67,358.77 1497.25,362 C1516.2,365.12 1526.15,363.78 1545.42,364.97" fill="none" stroke="#0bbb58" stroke-width="3"/>
<circle cx="1304.58" cy="366.96" r="4.5" fill="#0bbb58"/>
<circle cx="1352.75" cy="353.07" r="4.5" fill="#0bbb58"/>
<circle cx="1400.92" cy="353.66" r="4.5" fill="#0bbb58"/>
<circle cx="1449.08" cy="349.1" r="4.5" fill="#0bbb58"/>
<circle cx="1497.25" cy="362" r="4.5" fill="#0bbb58"/>
<circle cx="1545.42" cy="364.97" r="4.5" fill="#0bbb58"/></g>
<path d="M1287.24,448.3 V390.3 Q1287.24,386.3 1291.24,386.3 H1317.92 Q1321.92,386.3 1321.92,390.3 V448.3 Z" fill="#fdb434"/>
<path d="M1335.41,448.3 V371.7 Q1335.41,367.7 1339.41,367.7 H1366.09 Q1370.09,367.7 1370.09,371.7 V448.3 Z" fill="#fdb434"/>
<path d="M1383.58,448.3 V406.42 Q1383.58,402.42 1387.58,402.42 H1414.26 Q1418.26,402.42 1418.26,406.42 V448.3 Z" fill="#fdb434"/>
<path d="M1431.74,448.3 V363.02 Q1431.74,359.02 1435.74,359.02 H1462.42 Q1466.42,359.02 1466.42,363.02 V448.3 Z" fill="#fdb434"/>
<path d="M1479.91,448.3 V401.46 Q1479.91,397.46 1483.91,397.46 H1510.59 Q1514.59,397.46 1514.59,401.46 V448.3 Z" fill="#fdb434"/>
<path d="M1528.08,448.3 V367.98 Q1528.08,363.98 1532.08,363.98 H1558.76 Q1562.76,363.98 1562.76,367.98 V448.3 Z" fill="#fdb434"/>
<rect x="1339.2" y="328.0" width="12" height="11" fill="#fdb434"/>
<text x="1357" y="337.3" text-anchor="start" font-family="Liberation Sans, sans-serif" font-size="11" fill="#575757" >Anmeldelser</text>
<rect x="1433.7" y="327.9" width="11.9" height="11.2" fill="none" stroke="#0bbb58" stroke-width="3"/>
<text x="1451.3" y="337.3" text-anchor="start" font-family="Liberation Sans, sans-serif" font-size="11" fill="#575757" >Snittkarakter</text>
</svg>
</section>
</main>
</body>
</html>
